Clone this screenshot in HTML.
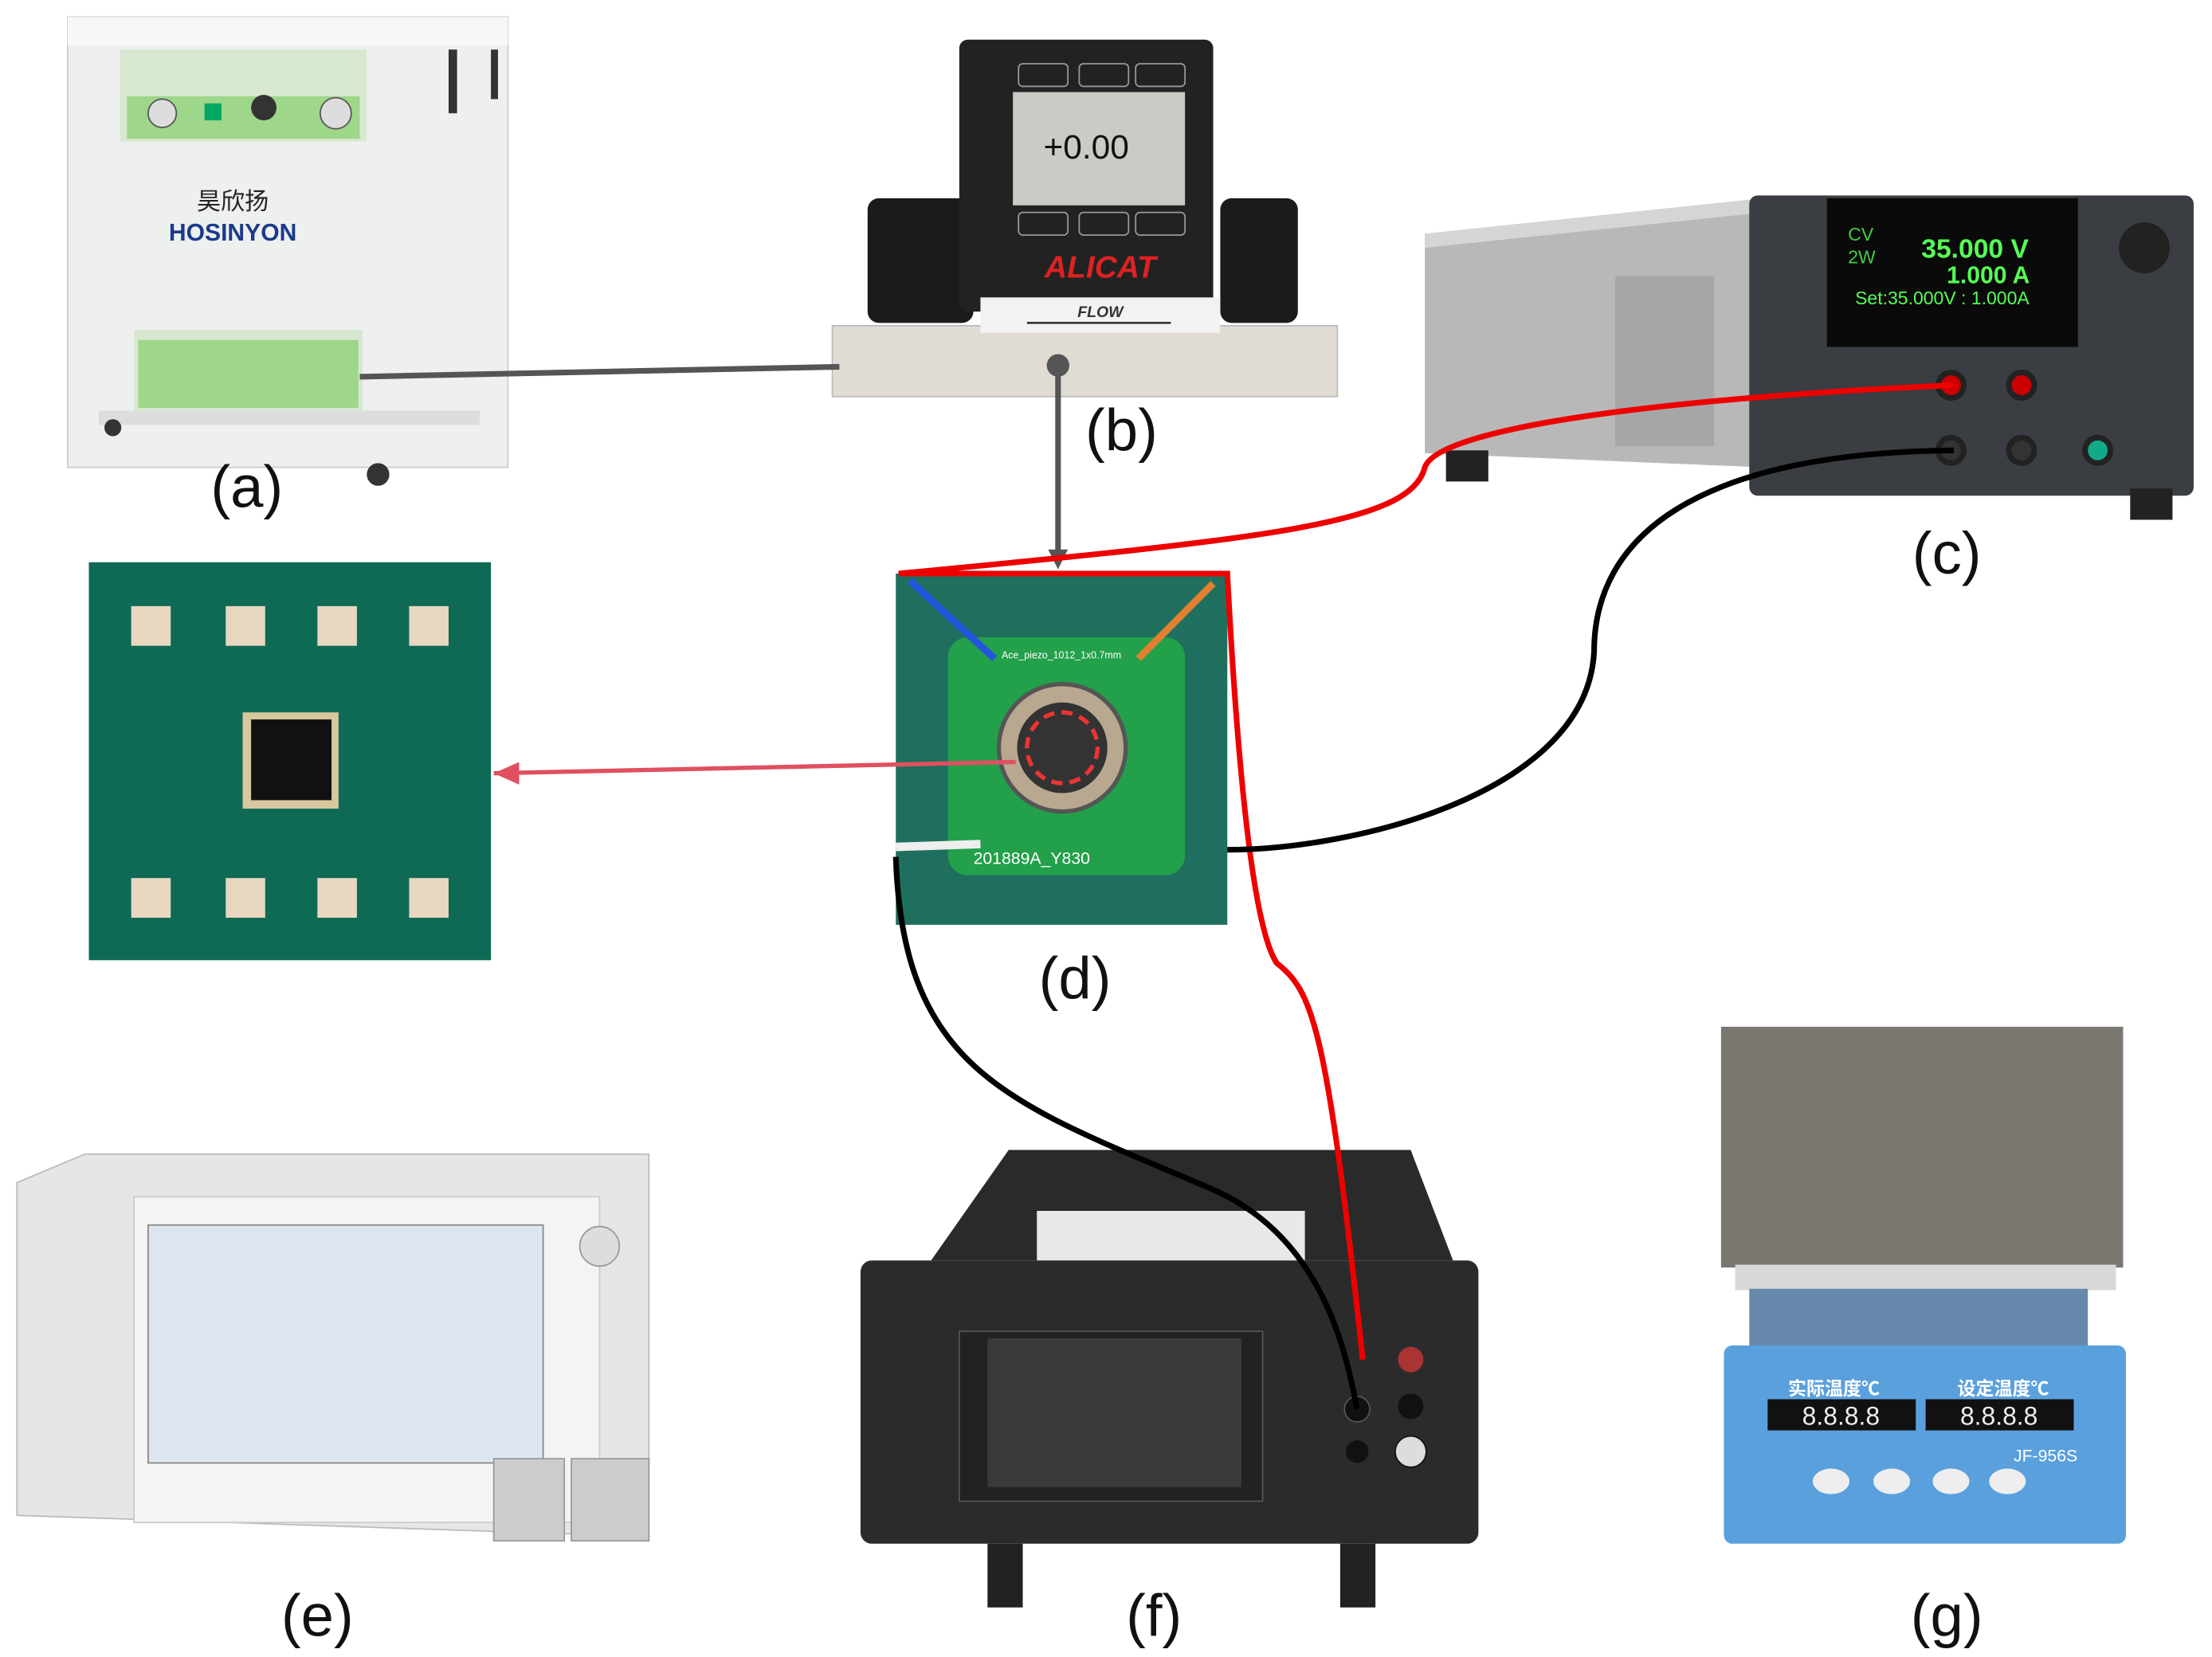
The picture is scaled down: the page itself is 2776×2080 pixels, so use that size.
<!DOCTYPE html>
<html><head><meta charset="utf-8"><style>
html,body{margin:0;padding:0;background:#fff;}
svg{display:block;}
text{font-family:"Liberation Sans","Noto Sans CJK SC",sans-serif;}
</style></head><body>
<svg width="2776" height="2080" viewBox="0 0 1568 1170" preserveAspectRatio="none" xmlns="http://www.w3.org/2000/svg">
<rect width="1568" height="1170" fill="#fff"/>
<!-- (a) cabinet -->
<rect x="48" y="12" width="312" height="318" fill="#eef0f0" stroke="#ccc"/>
<rect x="48" y="12" width="312" height="20" fill="#f7f7f7"/>
<rect x="85" y="35" width="175" height="65" fill="#d8e8d0"/>
<rect x="90" y="68" width="165" height="30" fill="#9ed68a"/>
<circle cx="115" cy="80" r="10" fill="#ddd" stroke="#555"/><circle cx="238" cy="80" r="11" fill="#ddd" stroke="#555"/>
<rect x="145" y="73" width="12" height="12" fill="#0a6"/><circle cx="187" cy="76" r="9" fill="#333"/>
<rect x="318" y="35" width="6" height="45" fill="#333"/><rect x="348" y="35" width="5" height="35" fill="#333"/>
<text x="165" y="148" font-size="17" text-anchor="middle" fill="#222">昊欣扬</text>
<text x="165" y="170" font-size="17" font-weight="bold" text-anchor="middle" fill="#1a3a8a">HOSINYON</text>
<rect x="95" y="233" width="162" height="58" fill="#d8e8d0"/>
<rect x="98" y="240" width="156" height="48" fill="#9ed68a"/>
<rect x="70" y="290" width="270" height="10" fill="#ddd"/>
<circle cx="80" cy="302" r="6" fill="#333"/><circle cx="268" cy="335" r="8" fill="#333"/>
<text x="175" y="358" font-size="42" text-anchor="middle" fill="#111">(a)</text>
<!-- (b) Alicat -->
<rect x="615" y="140" width="75" height="88" rx="8" fill="#1b1b1b"/>
<rect x="865" y="140" width="55" height="88" rx="8" fill="#1b1b1b"/>
<rect x="680" y="28" width="180" height="192" rx="6" fill="#222"/>
<rect x="722" y="45" width="35" height="16" rx="3" fill="none" stroke="#999"/><rect x="765" y="45" width="35" height="16" rx="3" fill="none" stroke="#999"/><rect x="805" y="45" width="35" height="16" rx="3" fill="none" stroke="#999"/>
<rect x="718" y="65" width="122" height="80" fill="#c8ccc4"/>
<text x="770" y="112" font-size="24" text-anchor="middle" font-family="Liberation Mono" fill="#111">+0.00</text>
<rect x="722" y="150" width="35" height="16" rx="3" fill="none" stroke="#999"/><rect x="765" y="150" width="35" height="16" rx="3" fill="none" stroke="#999"/><rect x="805" y="150" width="35" height="16" rx="3" fill="none" stroke="#999"/>
<text x="780" y="196" font-size="22" font-weight="bold" font-style="italic" text-anchor="middle" fill="#d22">ALICAT</text>
<rect x="590" y="230" width="358" height="50" fill="#e0dcd4" stroke="#bbb"/>
<rect x="695" y="210" width="170" height="25" fill="#f2f2f2"/>
<text x="780" y="224" font-size="11" font-weight="bold" font-style="italic" text-anchor="middle" fill="#333">FLOW</text>
<line x1="728" y1="228" x2="830" y2="228" stroke="#333" stroke-width="1.5"/>
<circle cx="750" cy="258" r="8" fill="#555"/>
<text x="795" y="318" font-size="42" text-anchor="middle" fill="#111">(b)</text>
<!-- (c) power supply -->
<polygon points="1010,165 1250,140 1250,330 1010,320" fill="#b8b8b8"/>
<polygon points="1010,165 1250,140 1250,150 1010,175" fill="#d5d5d5"/>
<rect x="1145" y="195" width="70" height="120" fill="#999" opacity="0.6"/>
<rect x="1240" y="138" width="315" height="212" rx="6" fill="#3a3d42"/>
<rect x="1295" y="140" width="178" height="105" fill="#0a0a0a"/>
<text x="1310" y="170" font-size="13" fill="#4c4">CV</text><text x="1310" y="186" font-size="13" fill="#4c4">2W</text>
<text x="1362" y="182" font-size="19" font-weight="bold" fill="#5f5">35.000 V</text>
<text x="1380" y="200" font-size="17" font-weight="bold" fill="#5f5">1.000  A</text>
<text x="1315" y="215" font-size="13" fill="#5f5">Set:35.000V : 1.000A</text>
<circle cx="1520" cy="175" r="18" fill="#222"/>
<circle cx="1383" cy="272" r="9" fill="#c00" stroke="#222" stroke-width="4"/><circle cx="1433" cy="272" r="9" fill="#c00" stroke="#222" stroke-width="4"/>
<circle cx="1383" cy="318" r="9" fill="#333" stroke="#222" stroke-width="4"/><circle cx="1433" cy="318" r="9" fill="#333" stroke="#222" stroke-width="4"/><circle cx="1487" cy="318" r="9" fill="#1a8" stroke="#222" stroke-width="4"/>
<rect x="1025" y="318" width="30" height="22" fill="#222"/><rect x="1510" y="345" width="30" height="22" fill="#222"/>
<text x="1380" y="405" font-size="42" text-anchor="middle" fill="#111">(c)</text>
<!-- connectors -->
<line x1="255" y1="266" x2="595" y2="259" stroke="#555" stroke-width="4"/>
<line x1="750" y1="262" x2="750" y2="390" stroke="#555" stroke-width="4"/>
<polygon points="743,388 757,388 750,402" fill="#555"/>
<!-- (d) board -->
<rect x="635" y="405" width="235" height="248" fill="#1f6f5f"/>
<rect x="672" y="450" width="168" height="168" rx="14" fill="#22a04a"/>
<circle cx="753" cy="528" r="45" fill="#b9a890" stroke="#555" stroke-width="3"/>
<circle cx="753" cy="528" r="32" fill="#333"/>
<circle cx="753" cy="528" r="25" fill="none" stroke="#e33" stroke-width="3" stroke-dasharray="8,5"/>
<line x1="645" y1="410" x2="705" y2="465" stroke="#2255dd" stroke-width="5"/>
<line x1="860" y1="412" x2="807" y2="465" stroke="#e08030" stroke-width="5"/>
<line x1="635" y1="598" x2="695" y2="596" stroke="#eee" stroke-width="6"/>
<text x="690" y="610" font-size="12" fill="#fff">201889A_Y830</text>
<text x="710" y="465" font-size="7" fill="#fff">Ace_piezo_1012_1x0.7mm</text>
<text x="762" y="705" font-size="42" text-anchor="middle" fill="#111">(d)</text>
<!-- zoom chip -->
<rect x="63" y="397" width="285" height="281" fill="#0f6a55"/>
<g fill="#e8d8c0">
<rect x="93" y="428" width="28" height="28"/><rect x="160" y="428" width="28" height="28"/><rect x="225" y="428" width="28" height="28"/><rect x="290" y="428" width="28" height="28"/>
<rect x="93" y="620" width="28" height="28"/><rect x="160" y="620" width="28" height="28"/><rect x="225" y="620" width="28" height="28"/><rect x="290" y="620" width="28" height="28"/>
</g>
<rect x="172" y="503" width="68" height="68" fill="#d8c8a0"/>
<rect x="178" y="508" width="57" height="57" fill="#111"/>
<line x1="350" y1="546" x2="720" y2="538" stroke="#e05060" stroke-width="3"/>
<polygon points="350,546 368,538 368,554" fill="#e05060"/>
<!-- (e) analyzer -->
<polygon points="12,835 60,815 460,815 460,1085 12,1070" fill="#e6e6e6" stroke="#bbb"/>
<rect x="95" y="845" width="330" height="230" fill="#f4f4f4" stroke="#ccc"/>
<rect x="105" y="865" width="280" height="168" fill="#dde6f0" stroke="#888"/>
<circle cx="425" cy="880" r="14" fill="#ddd" stroke="#999"/>
<rect x="350" y="1030" width="50" height="58" fill="#ccc" stroke="#999"/><rect x="405" y="1030" width="55" height="58" fill="#ccc" stroke="#999"/>
<text x="225" y="1155" font-size="42" text-anchor="middle" fill="#111">(e)</text>
<!-- (f) multimeter -->
<polygon points="660,890 715,812 1000,812 1030,890" fill="#2a2a2a"/>
<rect x="735" y="855" width="190" height="40" fill="#e8e8e8"/>
<rect x="610" y="890" width="438" height="200" rx="8" fill="#2b2b2b"/>
<rect x="680" y="940" width="215" height="120" fill="#222" stroke="#555"/>
<rect x="700" y="945" width="180" height="105" fill="#3a3a3a"/>
<circle cx="1000" cy="960" r="9" fill="#a33"/><circle cx="1000" cy="993" r="9" fill="#111"/><circle cx="1000" cy="1025" r="11" fill="#ddd" stroke="#111"/>
<circle cx="962" cy="995" r="9" fill="#111" stroke="#555"/><circle cx="962" cy="1025" r="8" fill="#111"/>
<rect x="700" y="1090" width="25" height="45" fill="#222"/><rect x="950" y="1090" width="25" height="45" fill="#222"/>
<text x="818" y="1155" font-size="42" text-anchor="middle" fill="#111">(f)</text>
<!-- (g) heater -->
<rect x="1220" y="725" width="285" height="170" fill="#7a7670"/>
<rect x="1230" y="893" width="270" height="18" fill="#d8d8d8"/>
<rect x="1240" y="910" width="240" height="42" fill="#6688aa"/>
<rect x="1222" y="950" width="285" height="140" rx="6" fill="#5aa0dd"/>
<text x="1300" y="985" font-size="13" fill="#fff" font-weight="bold" text-anchor="middle">实际温度℃</text>
<text x="1420" y="985" font-size="13" fill="#fff" font-weight="bold" text-anchor="middle">设定温度℃</text>
<rect x="1253" y="988" width="105" height="22" fill="#111"/><rect x="1365" y="988" width="105" height="22" fill="#111"/>
<text x="1305" y="1006" font-size="18" fill="#eee" text-anchor="middle" font-family="Liberation Mono">8.8.8.8</text>
<text x="1417" y="1006" font-size="18" fill="#eee" text-anchor="middle" font-family="Liberation Mono">8.8.8.8</text>
<text x="1450" y="1032" font-size="12" fill="#fff" text-anchor="middle">JF-956S</text>
<ellipse cx="1298" cy="1046" rx="13" ry="9" fill="#eee"/><ellipse cx="1341" cy="1046" rx="13" ry="9" fill="#eee"/><ellipse cx="1383" cy="1046" rx="13" ry="9" fill="#eee"/><ellipse cx="1423" cy="1046" rx="13" ry="9" fill="#eee"/>
<text x="1380" y="1155" font-size="42" text-anchor="middle" fill="#111">(g)</text>
<!-- wires on top -->
<path d="M1385,272 C1200,280 1020,300 1010,330 C1000,370 900,380 637,405 L870,405 C875,500 885,650 905,680 C930,700 940,720 966,960" fill="none" stroke="#e00" stroke-width="4"/>
<path d="M1385,318 C1200,320 1130,380 1130,460 C1125,560 960,600 870,600" fill="none" stroke="#000" stroke-width="4"/>
<path d="M635,605 C640,760 720,780 860,840 C940,875 955,960 962,995" fill="none" stroke="#000" stroke-width="4"/>
</svg>
</body></html>
